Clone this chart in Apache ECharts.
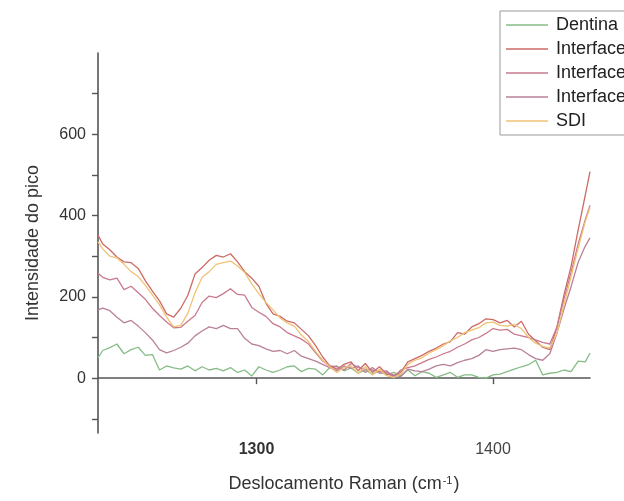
<!DOCTYPE html>
<html>
<head>
<meta charset="utf-8">
<script src="https://cdn.jsdelivr.net/npm/echarts@6/dist/echarts.min.js"></script>
<style>
  html, body { margin: 0; padding: 0; background: #fff; }
  #chart { width: 624px; height: 501px; }
</style>
</head>
<body>
<div id="chart"></div>
<script>
var ramanShift = [1233,1235,1238,1241,1244,1247,1250,1253,1256,1259,1262,1265,1268,1271,1274,1277,1280,1283,1286,1289,
  1292,1295,1298,1301,1304,1307,1310,1313,1316,1319,1322,1325,1328,1331,1334,1337,1340,1343,1346,1349,
  1352,1355,1358,1361,1364,1367,1370,1373,1376,1379,1382,1385,1388,1391,1394,1397,1400,1403,1406,1409,
  1412,1415,1418,1421,1424,1427,1430,1433,1436,1439,1441];

var dentina = [50,68,75,84,60,70,76,56,58,20,30,25,22,30,18,28,20,24,18,26,
  14,20,5,28,20,14,20,28,30,16,24,22,8,26,30,18,25,12,20,10,
  18,8,14,6,20,6,16,12,2,8,14,2,8,8,2,0,8,10,16,22,
  28,33,44,8,12,14,20,16,42,40,62];

var interface1 = [352,330,316,298,286,284,270,240,214,190,158,150,172,204,256,272,290,302,298,306,
  286,262,246,226,184,158,152,140,136,120,104,80,52,30,22,34,40,18,36,14,
  28,10,6,14,40,48,56,66,74,84,90,112,108,126,134,146,144,136,142,126,
  140,108,92,76,70,125,205,275,365,450,508];

var interface2 = [258,248,242,246,218,226,210,194,172,154,138,124,125,140,154,186,202,198,208,220,
  206,204,174,162,152,134,126,112,104,96,84,62,42,30,28,20,36,26,22,20,
  16,18,2,20,26,30,38,46,52,60,66,76,84,94,100,110,122,118,120,108,
  104,100,94,88,84,125,195,260,330,390,425];

var interface3 = [168,172,166,150,136,142,128,112,94,70,62,68,76,86,104,116,126,122,130,122,
  122,98,84,80,72,66,68,60,68,54,48,42,34,26,18,30,24,30,14,26,
  12,14,8,4,22,18,16,22,30,34,30,38,44,48,56,70,66,70,72,74,
  70,58,48,44,60,110,170,225,285,325,345];

var sdi = [335,318,300,296,280,262,250,228,205,180,150,126,130,160,210,248,262,280,284,288,
  276,260,232,208,186,168,148,136,128,106,90,66,44,28,14,26,30,12,28,8,
  22,6,2,10,34,44,50,62,70,80,92,100,112,118,124,136,138,130,128,132,
  122,100,86,78,74,110,180,250,320,385,420];

var seriesNames = ['Dentina', 'Interface 1', 'Interface 2', 'Interface 3', 'SDI'];
var seriesValues = [dentina, interface1, interface2, interface3, sdi];
var seriesColors = ['#86bd86', '#cc6a66', '#c97a8e', '#b9809a', '#f0c274'];

var xTicks = [1300, 1400];
var yTicks = [-100, 0, 100, 200, 300, 400, 500, 600, 700];
var yLabels = [0, 200, 400, 600];

var fontFamily = '"Liberation Sans", Arial, sans-serif';

var myChart = echarts.init(document.getElementById('chart'));

function toPairs(values) {
  return ramanShift.map(function (x, i) { return [x, values[i]]; });
}

var series = [];
seriesNames.forEach(function (name, i) {
  series.push({
    name: name,
    type: 'line',
    symbol: 'none',
    smooth: false,
    z: i === 0 ? 1 : 2,
    lineStyle: { width: 1.3, color: seriesColors[i] },
    itemStyle: { color: seriesColors[i] },
    data: toPairs(seriesValues[i])
  });
});

var option = {
  animation: false,
  backgroundColor: '#fff',
  textStyle: { fontFamily: fontFamily },
  grid: { left: 98, right: 34, top: 53, bottom: 68 },
  legend: {
    orient: 'vertical',
    left: 500,
    top: 11,
    padding: [5, 60, 5, 6],
    itemGap: 6,
    itemWidth: 42,
    itemHeight: 1.5,
    icon: 'rect',
    borderColor: '#999',
    borderWidth: 1,
    textStyle: { fontSize: 18, color: '#222', fontFamily: fontFamily, padding: [0, 0, 0, 3] },
    data: seriesNames
  },
  xAxis: {
    type: 'value',
    min: 1233,
    max: 1441,
    name: 'Deslocamento Raman (cm{sup|-1})',
    nameLocation: 'middle',
    nameGap: 42,
    nameTextStyle: {
      fontSize: 18, color: '#333', fontFamily: fontFamily,
      rich: { sup: { fontSize: 11, verticalAlign: 'top', padding: [0, 1, 8, 1] } }
    },
    axisLine: { lineStyle: { color: '#555', width: 1.6 } },
    axisTick: { customValues: xTicks, length: 6, lineStyle: { color: '#555', width: 1.4 } },
    axisLabel: {
      customValues: xTicks,
      margin: 9,
      fontSize: 16,
      color: '#333',
      formatter: function (v) {
        return v === 1300 ? '{b|' + v + '}' : '{n|' + v + '}';
      },
      rich: {
        b: { fontWeight: 'bold', fontSize: 16, color: '#333' },
        n: { fontSize: 16, color: '#444' }
      }
    },
    splitLine: { show: false }
  },
  yAxis: {
    type: 'value',
    min: -135,
    max: 800,
    name: 'Intensidade do pico',
    nameLocation: 'middle',
    nameGap: 56,
    nameTextStyle: { fontSize: 18, color: '#333', fontFamily: fontFamily },
    axisLine: { show: true, lineStyle: { color: '#555', width: 1.6 } },
    axisTick: { show: true, customValues: yTicks, length: 6, lineStyle: { color: '#555', width: 1.4 } },
    axisLabel: { customValues: yLabels, margin: 12, fontSize: 16, color: '#333' },
    splitLine: { show: false }
  },
  series: series
};

myChart.setOption(option);
</script>
</body>
</html>
